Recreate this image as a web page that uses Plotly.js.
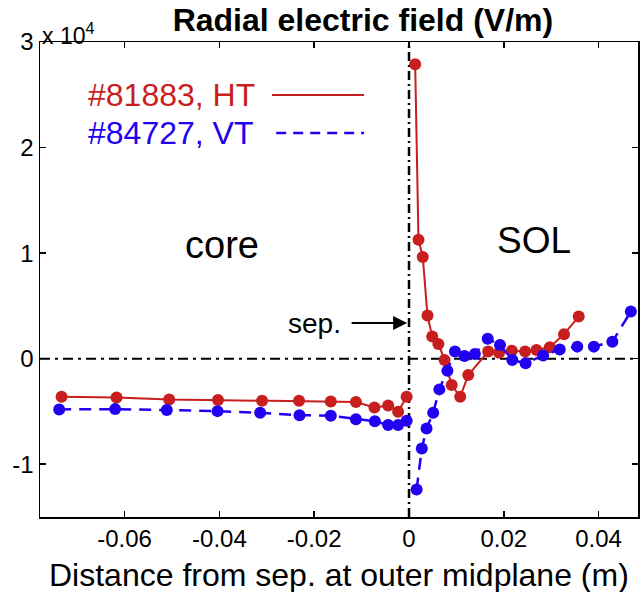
<!DOCTYPE html>
<html>
<head>
<meta charset="utf-8">
<script src="https://cdn.plot.ly/plotly-3.0.1.min.js"></script>
<style>html,body{margin:0;padding:0;background:#fff;}#chart{width:641px;height:592px;}</style>
</head>
<body>
<div id="chart"></div>
<script>
// ---- Data ----
const htCoreX = [-0.0733, -0.0617, -0.0506, -0.0403, -0.0310, -0.0232, -0.0165, -0.0112, -0.0073, -0.0044, -0.0023, -0.0005];
const htCoreE = [-3610, -3670, -3860, -3920, -3990, -3990, -4050, -4110, -4620, -4430, -5030, -3610];
const htSolX = [0.0013, 0.0020, 0.0029, 0.0039, 0.0049, 0.0062, 0.0075, 0.0090, 0.0108, 0.0125, 0.0167, 0.0190, 0.0217, 0.0245, 0.0269, 0.0297, 0.0327, 0.0358];
const htSolE = [27890, 11270, 9630, 4080, 2090, 1400, -120, -2500, -3610, -1550, 670, 550, 760, 670, 830, 1080, 2320, 3990];

const vtCoreX = [-0.0738, -0.0620, -0.0511, -0.0404, -0.0314, -0.0231, -0.0165, -0.0112, -0.0072, -0.0044, -0.0023, -0.0005];
const vtCoreE = [-4810, -4780, -4870, -4970, -5130, -5350, -5410, -5730, -5920, -6290, -6290, -5890];
const vtSolX = [0.0016, 0.0027, 0.0037, 0.0051, 0.0064, 0.0081, 0.0097, 0.0117, 0.0139, 0.0166, 0.0192, 0.0218, 0.0246, 0.0283, 0.0318, 0.0355, 0.0390, 0.0429, 0.0468];
const vtSolE = [-12400, -8510, -6610, -5130, -2910, -1140, 670, 260, 450, 1880, 1300, -120, -440, 300, 870, 1140, 1140, 1610, 4460];

const xTickVals = [-0.06, -0.04, -0.02, 0, 0.02, 0.04];
const xTickText = ['-0.06', '-0.04', '-0.02', '0', '0.02', '0.04'];
const yTickVals = [-10000, 0, 10000, 20000, 30000];
const yTickText = ['-1', '0', '1', '2', '3'];

const seriesNames = ['#81883, HT', '#84727, VT'];

// ---- Styles ----
const RED = '#c81e1e';
const BLUE = '#2200f0';
const FONT = 'Liberation Sans, Arial, Helvetica, sans-serif';

function tr(x, y, color, dash, width) {
  return {
    x: x, y: y, type: 'scatter', mode: 'lines+markers', showlegend: false,
    line: {color: color, width: width, dash: dash},
    marker: {color: color, size: 12}
  };
}

const data = [
  tr(htCoreX, htCoreE, RED, 'solid', 2),
  tr(htSolX, htSolE, RED, 'solid', 2),
  tr(vtCoreX, vtCoreE, BLUE, '12px,8px', 2.5),
  tr(vtSolX, vtSolE, BLUE, '12px,8px', 2.5)
];

const layout = {
  width: 641, height: 592,
  margin: {l: 40, r: 3, t: 42, b: 75},
  paper_bgcolor: '#fff', plot_bgcolor: '#fff',
  font: {family: FONT, color: '#000'},
  title: {
    text: '<b>Radial electric field (V/m)</b>',
    font: {family: FONT, size: 32, color: '#000'},
    x: 0.54, xanchor: 'center', y: 0.966, yanchor: 'middle', xref: 'paper'
  },
  xaxis: {
    range: [-0.07785, 0.04831],
    tickvals: xTickVals, ticktext: xTickText,
    ticks: 'inside', ticklen: 6, tickwidth: 1.5, tickcolor: '#000',
    showline: true, linecolor: '#000', linewidth: 1.5, mirror: 'ticks',
    showgrid: false, zeroline: false,
    tickfont: {family: FONT, size: 24, color: '#000'}
  },
  yaxis: {
    range: [-15000, 30000],
    tickvals: yTickVals, ticktext: yTickText,
    ticks: 'inside', ticklen: 6, tickwidth: 1.5, tickcolor: '#000',
    showline: true, linecolor: '#000', linewidth: 1.5, mirror: 'ticks',
    showgrid: false, zeroline: false,
    tickfont: {family: FONT, size: 24, color: '#000'}
  },
  shapes: [
    {type: 'line', xref: 'paper', yref: 'y', x0: 0, x1: 1, y0: 0, y1: 0,
     line: {color: '#000', width: 2, dash: '10px,5px,3px,5px'}, layer: 'below'},
    {type: 'line', xref: 'x', yref: 'paper', x0: 0, x1: 0, y0: 0, y1: 1,
     line: {color: '#000', width: 2.5, dash: '9px,4px,2px,4px'}, layer: 'below'},
    {type: 'line', xref: 'paper', yref: 'paper', x0: 0.388, x1: 0.542, y0: 0.8884, y1: 0.8884,
     line: {color: RED, width: 2}},
    {type: 'line', xref: 'paper', yref: 'paper', x0: 0.395, x1: 0.542, y0: 0.8084, y1: 0.8084,
     line: {color: BLUE, width: 2.5, dash: '10px,7px'}}
  ],
  annotations: [
    {text: seriesNames[0], xref: 'paper', yref: 'paper', x: 0.0769, y: 0.8884,
     xanchor: 'left', yanchor: 'middle', showarrow: false, font: {family: FONT, size: 32, color: RED}},
    {text: seriesNames[1], xref: 'paper', yref: 'paper', x: 0.0769, y: 0.8084,
     xanchor: 'left', yanchor: 'middle', showarrow: false, font: {family: FONT, size: 32, color: BLUE}},
    {text: 'core', xref: 'paper', yref: 'paper', x: 0.304, y: 0.5726,
     xanchor: 'center', yanchor: 'middle', showarrow: false, font: {family: FONT, size: 38, color: '#000'}},
    {text: 'SOL', xref: 'paper', yref: 'paper', x: 0.826, y: 0.583,
     xanchor: 'center', yanchor: 'middle', showarrow: false, font: {family: FONT, size: 37, color: '#000'}},
    {text: 'sep.', xref: 'paper', yref: 'paper', x: 0.5067, y: 0.408,
     xanchor: 'right', yanchor: 'middle', showarrow: false, font: {family: FONT, size: 28, color: '#000'}},
    {text: '', xref: 'x', yref: 'y', x: -0.0004, y: 3390, axref: 'pixel', ayref: 'pixel', ax: -57, ay: 0,
     showarrow: true, arrowhead: 2, arrowsize: 1.4, arrowwidth: 2, arrowcolor: '#000'},
    {text: 'x 10<sup>4</sup>', xref: 'paper', yref: 'paper', x: 0, y: 0.982,
     xanchor: 'left', yanchor: 'bottom', showarrow: false, font: {family: FONT, size: 23, color: '#000'}},
    {text: 'Distance from sep. at outer midplane (m)', xref: 'paper', yref: 'paper', x: 0.5, y: -0.122,
     xanchor: 'center', yanchor: 'middle', showarrow: false, font: {family: FONT, size: 32, color: '#000'}}
  ]
};

Plotly.newPlot('chart', data, layout, {displayModeBar: false, staticPlot: true});
</script>
</body>
</html>
